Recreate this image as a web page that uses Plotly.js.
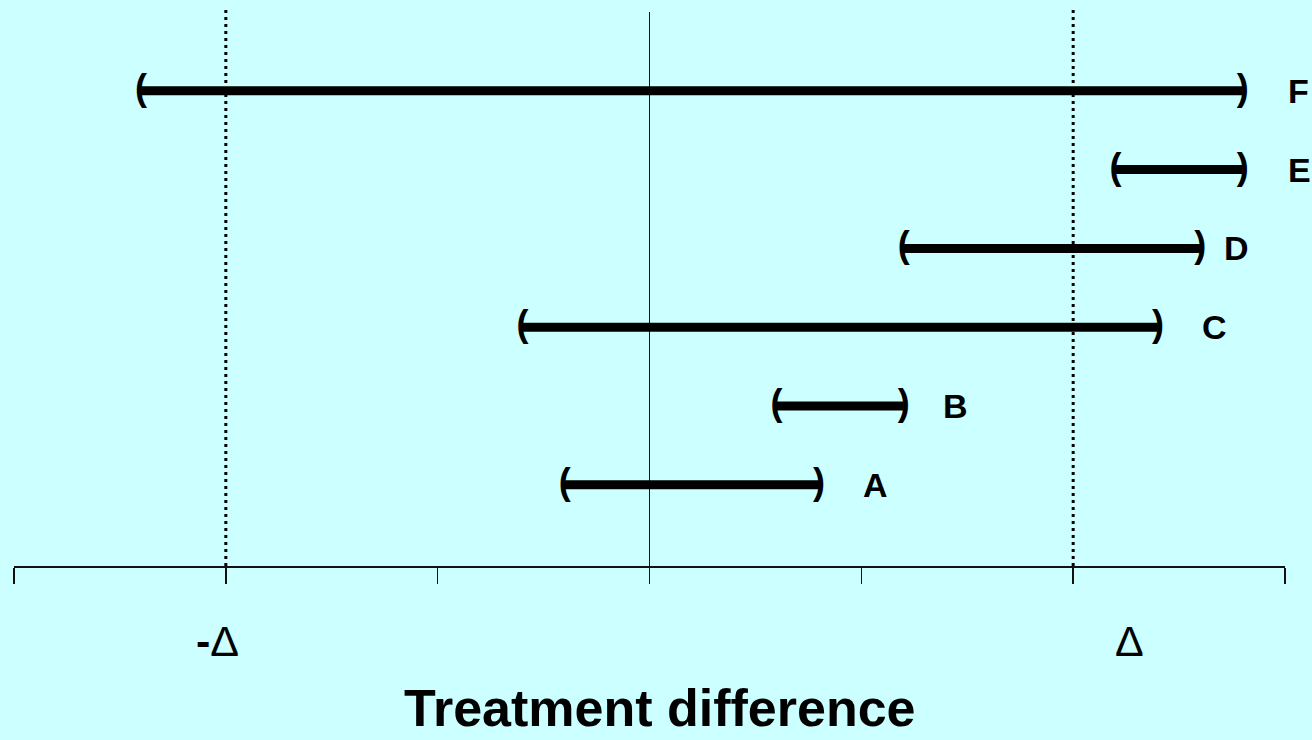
<!DOCTYPE html>
<html>
<head>
<meta charset="utf-8">
<script src="https://cdn.plot.ly/plotly-3.0.1.min.js"></script>
<style>html,body{margin:0;padding:0;background:#CCFFFF;}#chart{width:1312px;height:740px;}</style>
</head>
<body>
<div id="chart"></div>
<script>
const categories = ['A', 'B', 'C', 'D', 'E', 'F'];
const lowerBound = [-0.4, 0.6, -0.6, 1.2, 2.2, -2.4];
const upperBound = [0.8, 1.2, 2.4, 2.6, 2.8, 2.8];
const tickValues = [-3, -2, -1, 0, 1, 2, 3];
const marginValues = [-2, 2];
const marginLabels = ['<b>-</b>\u0394', '\u0394'];
const axisTitle = 'Treatment difference';

const labelShift = [42, 37, 42, 22, 43, 43];
const marginLabelShift = [-8, 56];
const FONT = 'Liberation Sans, Arial, sans-serif';

const traces = [];
categories.forEach((c, i) => {
  const y = i + 1;
  traces.push({
    type: 'scatter', mode: 'lines', x: [lowerBound[i], upperBound[i]], y: [y, y],
    line: {color: '#000', width: 9}, hoverinfo: 'skip', showlegend: false
  });
  traces.push({
    type: 'scatter', mode: 'text', x: [lowerBound[i], upperBound[i]], y: [y, y],
    text: ['<b>(</b>', '<b>)</b>'], textposition: 'middle center',
    textfont: {family: FONT, size: 36, color: '#000'}, cliponaxis: false,
    hoverinfo: 'skip', showlegend: false
  });
});

const annotations = categories.map((c, i) => ({
  x: upperBound[i], y: i + 1, xref: 'x', yref: 'y', text: '<b>' + c + '</b>',
  xanchor: 'left', yanchor: 'middle', xshift: labelShift[i], showarrow: false,
  font: {family: FONT, size: 34, color: '#000'}
}));
marginValues.forEach((v, i) => {
  annotations.push({
    x: v, y: -0.135, xref: 'x', yref: 'paper', text: marginLabels[i],
    xanchor: 'center', yanchor: 'middle', xshift: marginLabelShift[i], showarrow: false,
    font: {family: FONT, size: 43, color: '#000'}
  });
});
annotations.push({
  x: 0.5, y: -0.313, xref: 'paper', yref: 'paper', text: '<b>' + axisTitle + '</b>',
  xanchor: 'center', yanchor: 'bottom', xshift: 10, showarrow: false,
  font: {family: FONT, size: 52, color: '#000'}
});

const shapes = marginValues.map(v => ({
  type: 'line', xref: 'x', yref: 'paper', x0: v, x1: v, y0: 0, y1: 1.007,
  line: {color: '#000', width: 3, dash: '3px,4px'}, layer: 'below'
}));

const layout = {
  width: 1312, height: 740,
  margin: {l: 14, r: 27, t: 12, b: 174},
  paper_bgcolor: '#CCFFFF', plot_bgcolor: '#CCFFFF',
  showlegend: false,
  xaxis: {
    range: [-3, 3], tickvals: tickValues, showticklabels: false,
    ticks: 'outside', ticklen: 16, tickwidth: 1.5, tickcolor: '#111',
    showline: true, linecolor: '#111', linewidth: 1.5,
    showgrid: false, zeroline: true, zerolinecolor: '#111', zerolinewidth: 1.2,
    fixedrange: true
  },
  yaxis: {range: [-0.03, 7], visible: false, fixedrange: true},
  annotations: annotations,
  shapes: shapes
};

Plotly.newPlot('chart', traces, layout, {displayModeBar: false, staticPlot: true});
</script>
</body>
</html>
